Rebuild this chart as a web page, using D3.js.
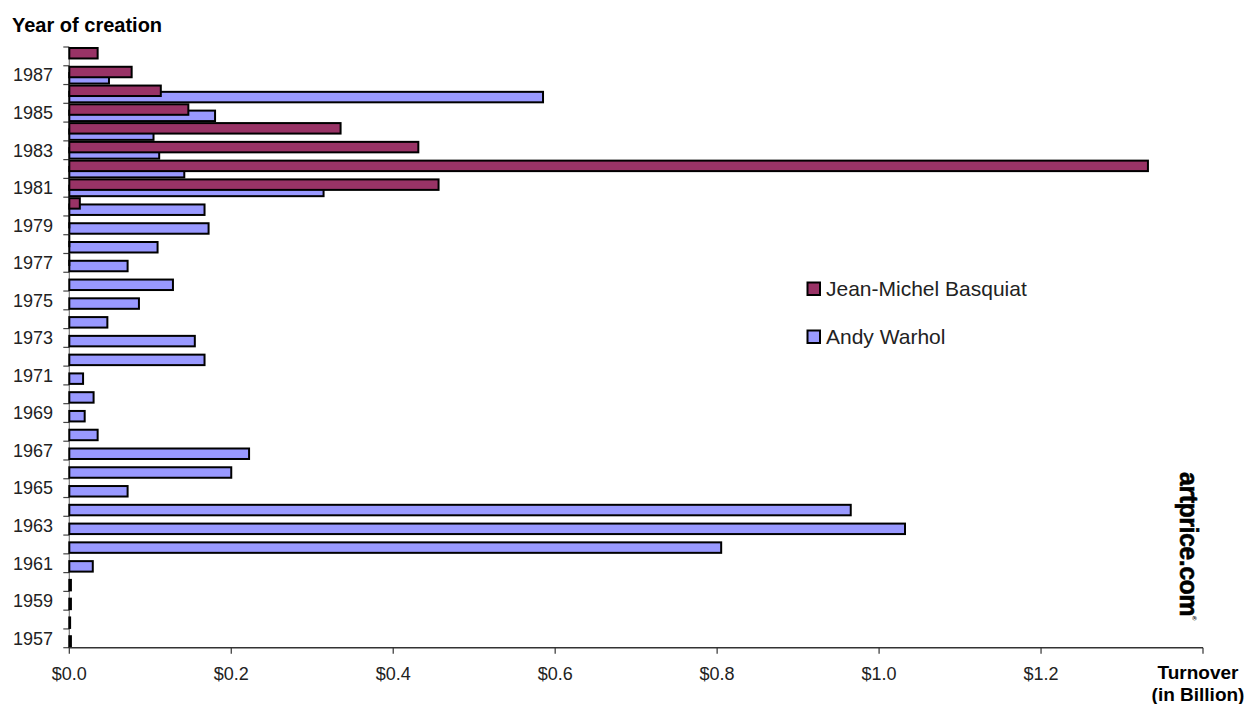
<!DOCTYPE html>
<html>
<head>
<meta charset="utf-8">
<script src="https://cdn.jsdelivr.net/npm/d3@7"></script>
<style>
  html, body { margin: 0; padding: 0; background: #fff; }
  svg { display: block; font-family: "Liberation Sans", Arial, sans-serif; }
</style>
</head>
<body>
<svg id="chart" width="1250" height="704"></svg>
<script>
// ---- Data ----
const years = [1988,1987,1986,1985,1984,1983,1982,1981,1980,1979,1978,1977,1976,1975,1974,1973,1972,1971,1970,1969,1968,1967,1966,1965,1964,1963,1962,1961,1960,1959,1958,1957];
const basquiat = [0.035,0.077,0.113,0.147,0.335,0.431,1.332,0.456,0.013,0,0,0,null,null,null,null,null,null,null,null,null,null,null,null,null,null,null,null,null,null,null,null];
const warhol = [null,0.049,0.585,0.180,0.104,0.111,0.142,0.314,0.167,0.172,0.109,0.072,0.128,0.086,0.047,0.155,0.167,0.017,0.030,0.019,0.035,0.222,0.200,0.072,0.965,1.032,0.805,0.029,0.002,0.002,0.001,0.002];
const xTicks = [0,0.2,0.4,0.6,0.8,1.0,1.2,1.4];
const xTickLabels = ["$0.0","$0.2","$0.4","$0.6","$0.8","$1.0","$1.2",""];
const labelYears = [1987,1985,1983,1981,1979,1977,1975,1973,1971,1969,1967,1965,1963,1961,1959,1957];
const seriesNames = ["Jean-Michel Basquiat","Andy Warhol"];
const seriesColors = ["#993366","#9999FF"];

(function () {
// ---- Layout ----
const svg = d3.select("#chart");
const pLeft = 69.3, pRight = 1203, pTop = 47, pBottom = 647.7;

const x = d3.scaleLinear().domain([0, 1.4]).range([pLeft, pRight]);
const y = d3.scaleBand().domain(years).range([pTop, pBottom]).padding(0);
const bw = y.bandwidth();
const barH = bw * 0.665;

// Y axis line and boundary ticks
svg.append("line")
  .attr("x1", pLeft).attr("x2", pLeft).attr("y1", pTop).attr("y2", pBottom)
  .attr("stroke", "#777").attr("stroke-width", 1.2);
const bounds = years.map(d => y(d)).concat([y(years[years.length-1]) + bw]);
svg.append("g").selectAll("line").data(bounds).join("line")
  .attr("x1", pLeft - 6).attr("x2", pLeft)
  .attr("y1", d => d).attr("y2", d => d)
  .attr("stroke", "#444").attr("stroke-width", 1.2);

// Y labels
svg.append("g").selectAll("text").data(labelYears).join("text")
  .attr("x", 53).attr("y", d => y(d) + bw / 2)
  .attr("dy", "0.35em")
  .attr("text-anchor", "end")
  .attr("font-size", 18).attr("fill", "#222")
  .text(d => d);

// Warhol bars (drawn first, underneath)
const wData = years.map((yr, i) => ({yr, v: warhol[i]})).filter(d => d.v !== null);
svg.append("g").selectAll("rect").data(wData).join("rect")
  .attr("x", x(0))
  .attr("y", d => y(d.yr) + bw - barH + 1)
  .attr("width", d => Math.max(x(d.v) - x(0), 0.01))
  .attr("height", barH - 2)
  .attr("fill", seriesColors[1])
  .attr("stroke", "#000").attr("stroke-width", 2);

// Basquiat bars (on top)
const bData = years.map((yr, i) => ({yr, v: basquiat[i]})).filter(d => d.v !== null);
svg.append("g").selectAll("rect").data(bData).join("rect")
  .attr("x", x(0))
  .attr("y", d => y(d.yr) + 1)
  .attr("width", d => Math.max(x(d.v) - x(0), 0.01))
  .attr("height", barH - 2)
  .attr("fill", seriesColors[0])
  .attr("stroke", "#000").attr("stroke-width", 2);

// X axis
svg.append("line")
  .attr("x1", pLeft).attr("x2", pRight).attr("y1", pBottom).attr("y2", pBottom)
  .attr("stroke", "#333").attr("stroke-width", 1.4);
svg.append("g").selectAll("line").data(xTicks).join("line")
  .attr("x1", d => x(d)).attr("x2", d => x(d))
  .attr("y1", pBottom).attr("y2", pBottom + 6)
  .attr("stroke", "#333").attr("stroke-width", 1.2);
svg.append("g").selectAll("text").data(xTicks).join("text")
  .attr("x", d => x(d)).attr("y", 680)
  .attr("text-anchor", "middle")
  .attr("font-size", 18).attr("fill", "#222")
  .text((d, i) => xTickLabels[i]);

// Titles
svg.append("text").attr("x", 12).attr("y", 31.5)
  .attr("font-size", 20).attr("font-weight", "bold").attr("fill", "#000")
  .text("Year of creation");
const tt = svg.append("text")
  .attr("text-anchor", "middle")
  .attr("font-size", 19).attr("font-weight", "bold").attr("fill", "#000");
tt.append("tspan").attr("x", 1198).attr("y", 679.3).text("Turnover");
tt.append("tspan").attr("x", 1198).attr("y", 701).text("(in Billion)");

// Legend
const legY = [282.5, 330.5];
const leg = svg.append("g");
leg.selectAll("rect").data(seriesNames).join("rect")
  .attr("x", 807.5).attr("y", (d, i) => legY[i])
  .attr("width", 12.5).attr("height", 12.5)
  .attr("fill", (d, i) => seriesColors[i])
  .attr("stroke", "#000").attr("stroke-width", 2);
leg.selectAll("text").data(seriesNames).join("text")
  .attr("x", 826).attr("y", (d, i) => legY[i] + 13.5)
  .attr("font-size", 21).attr("fill", "#222")
  .text(d => d);

// Watermark
const wm = svg.append("text")
  .attr("transform", "translate(1180,472) rotate(90)")
  .attr("font-size", 25).attr("font-weight", "bold").attr("fill", "#000")
  .attr("stroke", "#000").attr("stroke-width", 0.6)
  .attr("letter-spacing", -0.5);
wm.append("tspan").text("artprice.com");
wm.append("tspan").attr("font-size", 6).attr("stroke-width", 0).attr("dy", -12).text("®");
})();
</script>
</body>
</html>
